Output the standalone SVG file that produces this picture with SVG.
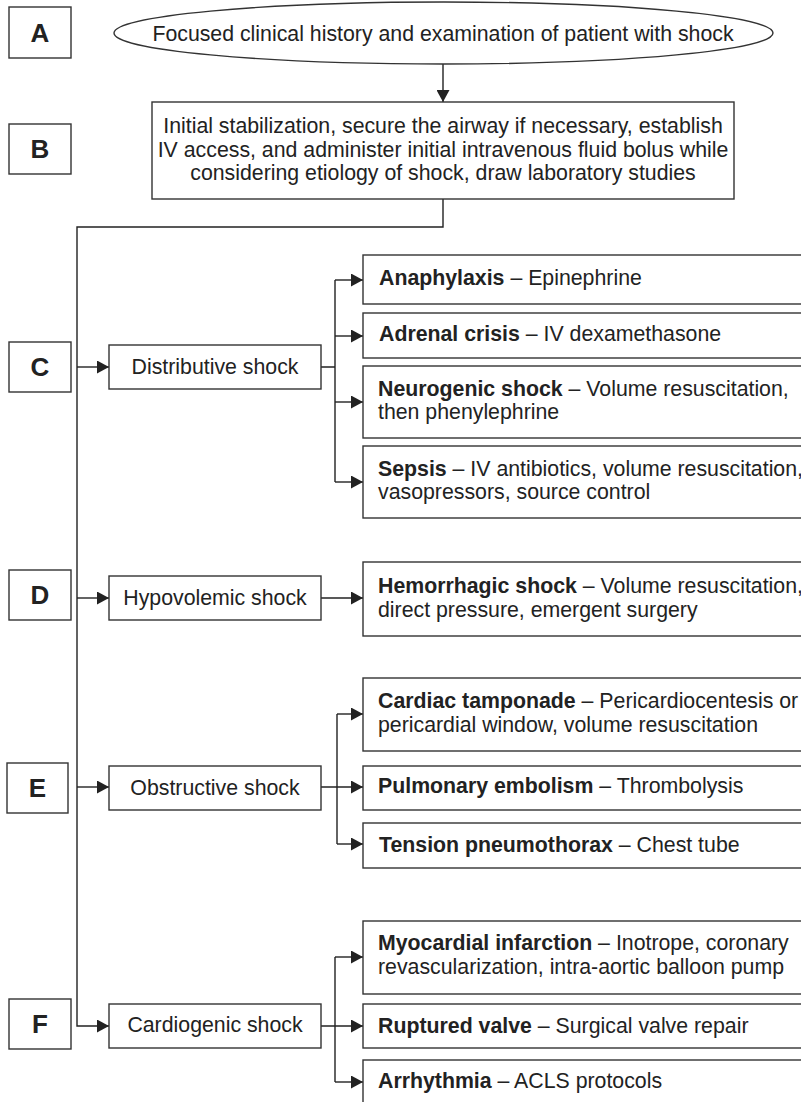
<svg xmlns="http://www.w3.org/2000/svg" width="801" height="1102" viewBox="0 0 801 1102">
<style>
.box{fill:#fff;stroke:#333;stroke-width:1.4}
.t{font-family:"Liberation Sans",Arial,sans-serif;font-size:21.3px;fill:#222}
.b{font-weight:bold}
.lbl{font-family:"Liberation Sans",Arial,sans-serif;font-size:26px;font-weight:bold;fill:#222;text-anchor:middle}
.c{text-anchor:middle}
.ln{fill:none;stroke:#222;stroke-width:1.4}
.ar{fill:none;stroke:#222;stroke-width:1.4;marker-end:url(#ah)}
</style>
<defs>
<marker id="ah" markerUnits="userSpaceOnUse" markerWidth="13" markerHeight="13" refX="12" refY="6.5" orient="auto">
<path d="M0,0 L12,6.5 L0,13 z" fill="#222"/>
</marker>
</defs>
<rect x="0" y="0" width="801" height="1102" fill="#fff"/>

<g id="connectors">
<path class="ar" d="M443,64 V102"/>
<path class="ar" d="M443,199 V227 H77 V1026 H109"/>
<path class="ar" d="M77,367 H109"/>
<path class="ar" d="M77,598 H109"/>
<path class="ar" d="M77,787 H109"/>
<path class="ln" d="M321,367 H335 M335,280 V482"/>
<path class="ar" d="M335,280 H363"/>
<path class="ar" d="M335,336 H363"/>
<path class="ar" d="M335,402 H363"/>
<path class="ar" d="M335,482 H363"/>
<path class="ar" d="M321,598 H363"/>
<path class="ar" d="M321,787 H363"/>
<path class="ln" d="M337,714 V844"/>
<path class="ar" d="M337,714 H363"/>
<path class="ar" d="M337,844 H363"/>
<path class="ar" d="M321,1026 H363"/>
<path class="ln" d="M335,957 V1082"/>
<path class="ar" d="M335,957 H363"/>
<path class="ar" d="M335,1082 H363"/>
</g>

<g id="labelA"><rect class="box" x="9" y="7" width="62" height="51"/><text class="lbl" x="40" y="42">A</text></g>
<g id="labelB"><rect class="box" x="9" y="124" width="62" height="50"/><text class="lbl" x="40" y="158">B</text></g>
<g id="labelC"><rect class="box" x="9" y="342" width="62" height="50"/><text class="lbl" x="40" y="376">C</text></g>
<g id="labelD"><rect class="box" x="9" y="570" width="62" height="50"/><text class="lbl" x="40" y="604">D</text></g>
<g id="labelE"><rect class="box" x="7" y="763" width="61" height="50"/><text class="lbl" x="37.5" y="797">E</text></g>
<g id="labelF"><rect class="box" x="9" y="999" width="62" height="50"/><text class="lbl" x="40" y="1033">F</text></g>

<g id="start">
<ellipse class="box" cx="443.5" cy="33" rx="329.5" ry="31"/>
<text class="t c" x="443" y="41">Focused clinical history and examination of patient with shock</text>
</g>

<g id="stabilization">
<rect class="box" x="152" y="102" width="582" height="97"/>
<text class="t c" x="443" y="133">Initial stabilization, secure the airway if necessary, establish</text>
<text class="t c" x="443" y="157">IV access, and administer initial intravenous fluid bolus while</text>
<text class="t c" x="443" y="180">considering etiology of shock, draw laboratory studies</text>
</g>

<g id="distributive">
<rect class="box" x="109" y="345" width="212" height="44"/>
<text class="t c" x="215" y="374">Distributive shock</text>
</g>
<g id="anaphylaxis">
<rect class="box" x="363" y="255" width="445" height="49"/>
<text class="t" x="379" y="285"><tspan class="b">Anaphylaxis</tspan> – Epinephrine</text>
</g>
<g id="adrenal">
<rect class="box" x="363" y="313" width="445" height="45"/>
<text class="t" x="379" y="341"><tspan class="b">Adrenal crisis</tspan> – IV dexamethasone</text>
</g>
<g id="neurogenic">
<rect class="box" x="363" y="366" width="445" height="72"/>
<text class="t" x="378" y="396"><tspan class="b">Neurogenic shock</tspan> – Volume resuscitation,</text>
<text class="t" x="378" y="419">then phenylephrine</text>
</g>
<g id="sepsis">
<rect class="box" x="363" y="446" width="445" height="72"/>
<text class="t" x="378" y="476"><tspan class="b">Sepsis</tspan> – IV antibiotics, volume resuscitation,</text>
<text class="t" x="378" y="499">vasopressors, source control</text>
</g>

<g id="hypovolemic">
<rect class="box" x="109" y="576" width="212" height="44"/>
<text class="t c" x="215" y="605">Hypovolemic shock</text>
</g>
<g id="hemorrhagic">
<rect class="box" x="363" y="562" width="445" height="74"/>
<text class="t" x="378" y="593"><tspan class="b">Hemorrhagic shock</tspan> – Volume resuscitation,</text>
<text class="t" x="378" y="617">direct pressure, emergent surgery</text>
</g>

<g id="obstructive">
<rect class="box" x="109" y="766" width="212" height="44"/>
<text class="t c" x="215" y="795">Obstructive shock</text>
</g>
<g id="tamponade">
<rect class="box" x="363" y="678" width="445" height="73"/>
<text class="t" x="378" y="708"><tspan class="b">Cardiac tamponade</tspan> – Pericardiocentesis or</text>
<text class="t" x="378" y="732">pericardial window, volume resuscitation</text>
</g>
<g id="embolism">
<rect class="box" x="363" y="766" width="445" height="44"/>
<text class="t" x="378" y="793"><tspan class="b">Pulmonary embolism</tspan> – Thrombolysis</text>
</g>
<g id="pneumothorax">
<rect class="box" x="363" y="823" width="445" height="45"/>
<text class="t" x="379" y="852"><tspan class="b">Tension pneumothorax</tspan> – Chest tube</text>
</g>

<g id="cardiogenic">
<rect class="box" x="109" y="1004" width="212" height="44"/>
<text class="t c" x="215" y="1032">Cardiogenic shock</text>
</g>
<g id="infarction">
<rect class="box" x="363" y="921" width="445" height="73"/>
<text class="t" x="378" y="950"><tspan class="b">Myocardial infarction</tspan> – Inotrope, coronary</text>
<text class="t" x="378" y="974">revascularization, intra-aortic balloon pump</text>
</g>
<g id="valve">
<rect class="box" x="363" y="1004" width="445" height="44"/>
<text class="t" x="378" y="1033"><tspan class="b">Ruptured valve</tspan> – Surgical valve repair</text>
</g>
<g id="arrhythmia">
<rect class="box" x="363" y="1060" width="445" height="60"/>
<text class="t" x="378" y="1088"><tspan class="b">Arrhythmia</tspan> – ACLS protocols</text>
</g>
</svg>
